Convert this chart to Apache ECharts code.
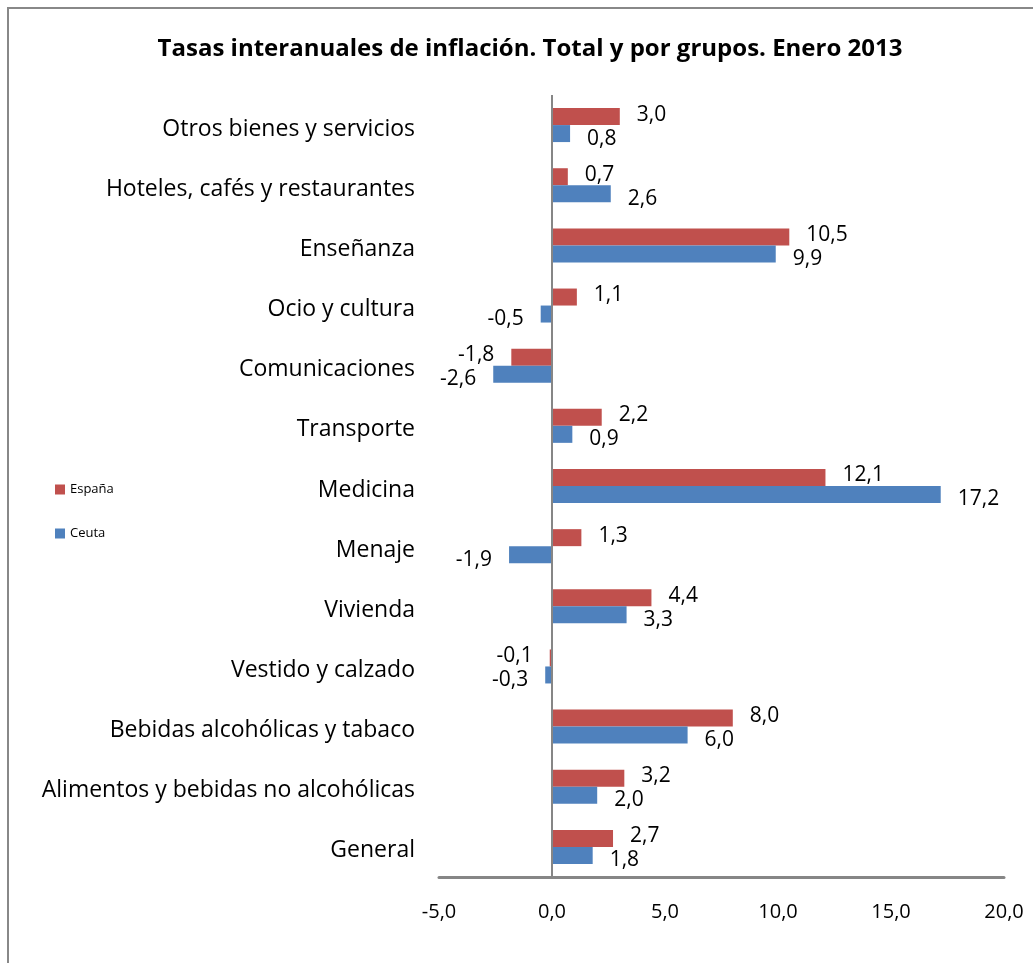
<!DOCTYPE html>
<html>
<head>
<meta charset="utf-8">
<script src="https://cdn.jsdelivr.net/npm/echarts@6/dist/echarts.min.js"></script>
<style>html,body{margin:0;padding:0;background:#fff}#c{width:1033px;height:963px}</style>
</head>
<body>
<div id="c"></div>
<script>
const categories = ['General','Alimentos y bebidas no alcohólicas','Bebidas alcohólicas y tabaco','Vestido y calzado','Vivienda','Menaje','Medicina','Transporte','Comunicaciones','Ocio y cultura','Enseñanza','Hoteles, cafés y restaurantes','Otros bienes y servicios'];
const espana = [2.7, 3.2, 8.0, -0.1, 4.4, 1.3, 12.1, 2.2, -1.8, 1.1, 10.5, 0.7, 3.0];
const ceuta  = [1.8, 2.0, 6.0, -0.3, 3.3, -1.9, 17.2, 0.9, -2.6, -0.5, 9.9, 2.6, 0.8];
const xTicks = [-5, 0, 5, 10, 15, 20];

const FONT = 'Open Sans';
const fmt = v => Number(v).toFixed(1).replace('.', ',');
const toData = arr => arr.map(v => v < 0 ? {value: v, label: {position: 'left'}} : v);

const chart = echarts.init(document.getElementById('c'));
chart.setOption({
  animation: false,
  title: {
    text: 'Tasas interanuales de inflación. Total y por grupos. Enero 2013',
    left: 525, textAlign: 'center', top: 32,
    textStyle: {fontFamily: FONT, fontSize: 24, fontWeight: 'bold', color: '#000'}
  },
  graphic: [{type: 'rect', shape: {x: 8, y: 8, width: 1040, height: 980}, style: {fill: 'none', stroke: '#888', lineWidth: 2}, silent: true}],
  legend: {
    orient: 'vertical', left: 50, top: 478, itemWidth: 10, itemHeight: 10, itemGap: 31, icon: 'rect',
    data: ['España', 'Ceuta'],
    textStyle: {fontFamily: FONT, fontSize: 13, color: '#000'}
  },
  grid: {left: 439, right: 29, top: 95, bottom: 86},
  xAxis: {
    type: 'value', min: xTicks[0], max: xTicks[xTicks.length - 1], interval: 5,
    axisLine: {show: true, onZero: false, lineStyle: {color: '#868686', width: 3}},
    axisTick: {show: false}, splitLine: {show: false},
    axisLabel: {formatter: fmt, fontFamily: FONT, fontSize: 20, color: '#000', margin: 25}
  },
  yAxis: {
    type: 'category', data: categories,
    axisLine: {show: false}, axisTick: {show: false},
    axisLabel: {
      fontFamily: FONT, fontSize: 23, color: '#000', margin: 24,
      formatter: v => '{a|' + v + '}',
      rich: {a: {fontFamily: FONT, fontSize: 23, color: '#000', padding: [8, 0, 0, 0]}}
    }
  },
  series: [
    {name: 'España', type: 'bar', data: toData(espana), barWidth: 17, barGap: '0%',
     itemStyle: {color: '#C0504D'},
     label: {show: true, position: 'right', distance: 17, offset: [0, -2], formatter: p => fmt(p.value), fontFamily: FONT, fontSize: 21, color: '#000'},
     markLine: {silent: true, symbol: 'none', label: {show: false}, lineStyle: {color: '#868686', width: 2, type: 'solid'}, data: [{xAxis: 0}]}
    },
    {name: 'Ceuta', type: 'bar', data: toData(ceuta), barWidth: 17, barGap: '0%',
     itemStyle: {color: '#4F81BD'},
     label: {show: true, position: 'right', distance: 17, offset: [0, 5], formatter: p => fmt(p.value), fontFamily: FONT, fontSize: 21, color: '#000'}
    }
  ]
});
</script>
</body>
</html>
